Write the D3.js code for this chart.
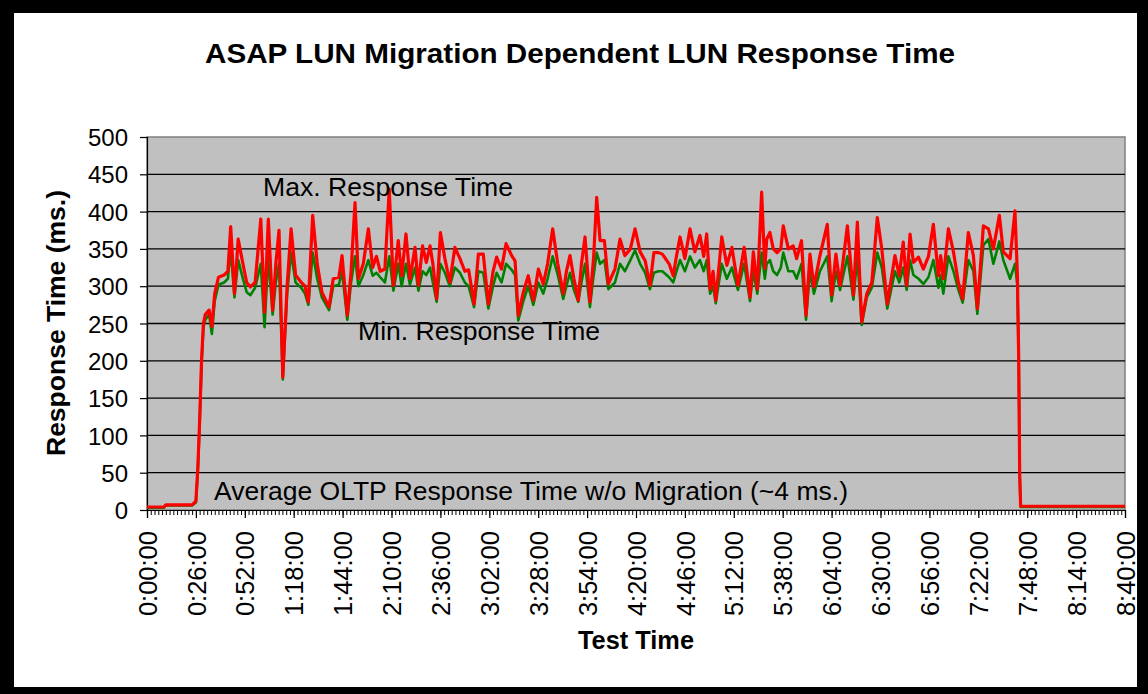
<!DOCTYPE html>
<html><head><meta charset="utf-8">
<script src="https://cdn.jsdelivr.net/npm/d3@7"></script>
<style>
body{margin:0;background:#fff}
svg{display:block}
text{font-family:"Liberation Sans",Arial,Helvetica,sans-serif;fill:#000}
</style>
</head><body>
<svg id="chart" width="1148" height="694"></svg>
<script>
// ---- data (minutes since start, response times in ms) ----
const timeMin = [0,9,10,24,26,27,28,29,30,31,
33,34.5,36,38,41,43,44.5,46.5,48.5,51,
53,55,57.5,60.5,62.5,64.5,66.8,68.5,70.2,72.2,
74.5,76.6,79,82,84,85.8,88.1,90.5,93,96.8,
99,102,103.7,106.5,108.5,110.6,112.4,115,117.7,120,
122,124,126.5,128.8,131,133.6,135.4,137.7,139.8,142.5,
144.3,146.5,148.5,150.5,152,154,156,158.4,161,163.7,
166.4,169,171,173.9,176.2,178.8,181.5,184,185.9,188.5,
190.9,193.9,195.7,197.4,200.1,202.7,205.4,208.1,210.7,213,
215.7,218.4,221.3,223,224.9,227,229.3,231,232.9,235.5,
237.5,239.1,240.9,243.2,245.3,248.8,251.5,254.1,257,259.5,
262.2,264.9,267.4,269.5,272,274,277.6,279.8,281.5,283.4,
286,288.7,291.3,294,296,297.6,299.4,301,302.4,305.6,
308.3,311,314.2,317.5,320.6,322.4,324.5,326.8,328.5,329.5,
331.2,333,335,337,338.3,341,343.6,345.4,348,350.4,
352.5,354.6,357.8,361.7,364,366.3,368.5,372.4,375.6,377.7,
380,382.7,385.4,388.3,390.7,393.6,397.7,400,402.1,403.9,
405.7,407.5,410.2,412.8,415.5,418.1,420.8,422,423.4,426.1,
428.8,431.4,433.7,436.7,439.4,441.5,444.7,447.4,450,453.2,
455.3,458.9,461.5,462.8,463.5,464,464.5,
520];

const maxResp = [4,4,7,7,12,55,120,200,250,262,
268,246,290,312,315,320,380,290,363,330,
305,299,305,390,265,390,268,330,375,178,
300,377,315,305,300,279,395,330,292,272,
310,312,341,261,320,412,310,330,377,325,
340,320,323,430,301,361,314,370,310,352,
301,354,332,354,330,283,372,337,305,352,
337,320,322,276,343,343,276,320,339,323,
357,341,334,261,292,314,281,323,303,330,
377,330,290,320,341,310,281,330,366,279,
340,419,361,361,303,323,363,341,350,377,
346,334,301,345,345,343,330,314,340,366,
337,377,346,368,340,370,296,320,281,366,
328,352,301,352,285,346,296,426,324,363,
372,350,345,350,381,350,354,337,361,261,
343,299,341,383,288,343,301,381,288,386,
252,290,305,392,350,276,341,314,359,301,
370,332,339,323,340,383,314,341,310,377,
346,305,283,372,341,270,381,377,350,395,
346,337,401,314,200,50,5,
5];

const minResp = [3,3,6,6,10,50,115,195,245,255,
262,236,280,302,305,310,350,285,335,310,
292,288,298,330,245,340,262,305,330,175,
290,345,305,298,290,275,345,310,285,268,
300,302,320,255,305,340,300,315,335,314,
318,312,305,340,294,330,300,330,302,325,
294,320,315,325,305,279,330,318,300,325,
318,305,300,272,320,318,270,300,318,305,
330,322,315,254,280,300,275,305,290,310,
340,315,283,300,318,295,279,305,330,272,
315,345,330,335,296,305,330,320,335,348,
330,318,296,318,320,320,312,305,320,335,
320,340,325,335,320,335,290,300,277,330,
310,325,295,330,280,320,290,345,310,330,
335,320,315,325,345,320,320,310,330,255,
320,290,320,340,280,320,295,340,282,340,
248,285,298,345,325,270,320,305,325,295,
335,315,310,303,312,335,298,315,290,340,
320,295,278,335,320,263,355,363,330,360,
335,310,330,300,195,45,4,
4];

const yTicks = [0,50,100,150,200,250,300,350,400,450,500];
const xTickMinutes = [0,26,52,78,104,130,156,182,208,234,260,286,312,338,364,390,416,442,468,494,520];
const xTickLabels = ["0:00:00","0:26:00","0:52:00","1:18:00","1:44:00","2:10:00","2:36:00","3:02:00","3:28:00","3:54:00","4:20:00","4:46:00","5:12:00","5:38:00","6:04:00","6:30:00","6:56:00","7:22:00","7:48:00","8:14:00","8:40:00"];
const minorTickStep = 2;

const titleText = "ASAP LUN Migration Dependent LUN Response Time";
const yTitle = "Response Time (ms.)";
const xTitle = "Test Time";
const annotations = [
  {text:"Max. Response Time", t:61.7, v:421, len:250},
  {text:"Min. Response Time", t:112.2, v:228, len:242},
  {text:"Average OLTP Response Time w/o Migration (~4 ms.)", t:35.6, v:13, len:634}
];

// ---- drawing ----
const W = 1148, H = 694;
const plot = {left:147, right:1125, top:137, bottom:510};
const svg = d3.select("#chart");

// black frame
svg.append("rect").attr("x",0).attr("y",0).attr("width",W).attr("height",H).attr("fill","#000");
svg.append("rect").attr("x",14).attr("y",13).attr("width",1123).attr("height",674).attr("fill","#fff");

const x = d3.scaleLinear().domain([0,520]).range([plot.left, plot.right]);
const y = d3.scaleLinear().domain([0,500]).range([plot.bottom, plot.top]);

// plot area
svg.append("rect").attr("x",plot.left).attr("y",plot.top)
  .attr("width",plot.right-plot.left).attr("height",plot.bottom-plot.top)
  .attr("fill","#c0c0c0").attr("stroke","#808080").attr("stroke-width",1.5);

// gridlines
svg.append("g").selectAll("line").data(yTicks.filter(d=>d>0 && d<500)).join("line")
  .attr("x1",plot.left).attr("x2",plot.right)
  .attr("y1",d=>y(d)).attr("y2",d=>y(d))
  .attr("stroke","#000").attr("stroke-width",1.3);

// title
svg.append("text").attr("x",580).attr("y",63).attr("text-anchor","middle")
  .attr("font-size",28).attr("font-weight","bold")
  .attr("textLength",750).attr("lengthAdjust","spacingAndGlyphs").text(titleText);

// y axis
const yAxis = svg.append("g").attr("transform",`translate(${plot.left},0)`)
  .call(d3.axisLeft(y).tickValues(yTicks).tickSize(7).tickPadding(12).tickFormat(d=>d));
yAxis.select(".domain").attr("stroke","#000").attr("stroke-width",1.2);
yAxis.selectAll(".tick line").attr("stroke","#000").attr("stroke-width",1.2);
yAxis.selectAll(".tick text").attr("font-size",24).attr("font-family",null).attr("dy","0.36em");

// x axis minor ticks
const minorTicks = d3.range(0,520+0.001,minorTickStep);
const xMinor = svg.append("g").attr("transform",`translate(0,${plot.bottom})`)
  .call(d3.axisBottom(x).tickValues(minorTicks).tickSize(5).tickFormat(""));
xMinor.select(".domain").remove();
xMinor.selectAll(".tick line").attr("stroke","#000").attr("stroke-width",1);

// x axis major
const xAxis = svg.append("g").attr("transform",`translate(0,${plot.bottom})`)
  .call(d3.axisBottom(x).tickValues(xTickMinutes).tickSize(8)
    .tickFormat((d,i)=>xTickLabels[i]));
xAxis.select(".domain").attr("stroke","#000").attr("stroke-width",1.2);
xAxis.selectAll(".tick line").attr("stroke","#000").attr("stroke-width",1.2);
xAxis.selectAll(".tick text").attr("font-size",25.5).attr("font-family",null)
  .attr("transform","rotate(-90)").attr("text-anchor","end")
  .attr("x",-21).attr("y",0).attr("dy","0.36em");

// axis titles
svg.append("text").attr("transform","translate(56,323) rotate(-90)").attr("text-anchor","middle")
  .attr("dy","0.36em").attr("font-size",25).attr("font-weight","bold")
  .attr("textLength",266).attr("lengthAdjust","spacingAndGlyphs").text(yTitle);
svg.append("text").attr("x",636).attr("y",649).attr("text-anchor","middle")
  .attr("font-size",25).attr("font-weight","bold")
  .attr("textLength",116).attr("lengthAdjust","spacingAndGlyphs").text(xTitle);

// lines
const idx = d3.range(timeMin.length);
const lineMin = d3.line().x(i=>x(timeMin[i])).y(i=>y(minResp[i]));
const lineMax = d3.line().x(i=>x(timeMin[i])).y(i=>y(maxResp[i]));
svg.append("path").attr("d",lineMin(idx)).attr("fill","none")
  .attr("stroke","#008000").attr("stroke-width",2.6).attr("stroke-linejoin","round");
svg.append("path").attr("d",lineMax(idx)).attr("fill","none")
  .attr("stroke","#ff0000").attr("stroke-width",3.2).attr("stroke-linejoin","round");

// annotations
svg.append("g").selectAll("text").data(annotations).join("text")
  .attr("x",d=>x(d.t)).attr("y",d=>y(d.v)).attr("font-size",25)
  .attr("textLength",d=>d.len).attr("lengthAdjust","spacingAndGlyphs").text(d=>d.text);
</script>
</body></html>
